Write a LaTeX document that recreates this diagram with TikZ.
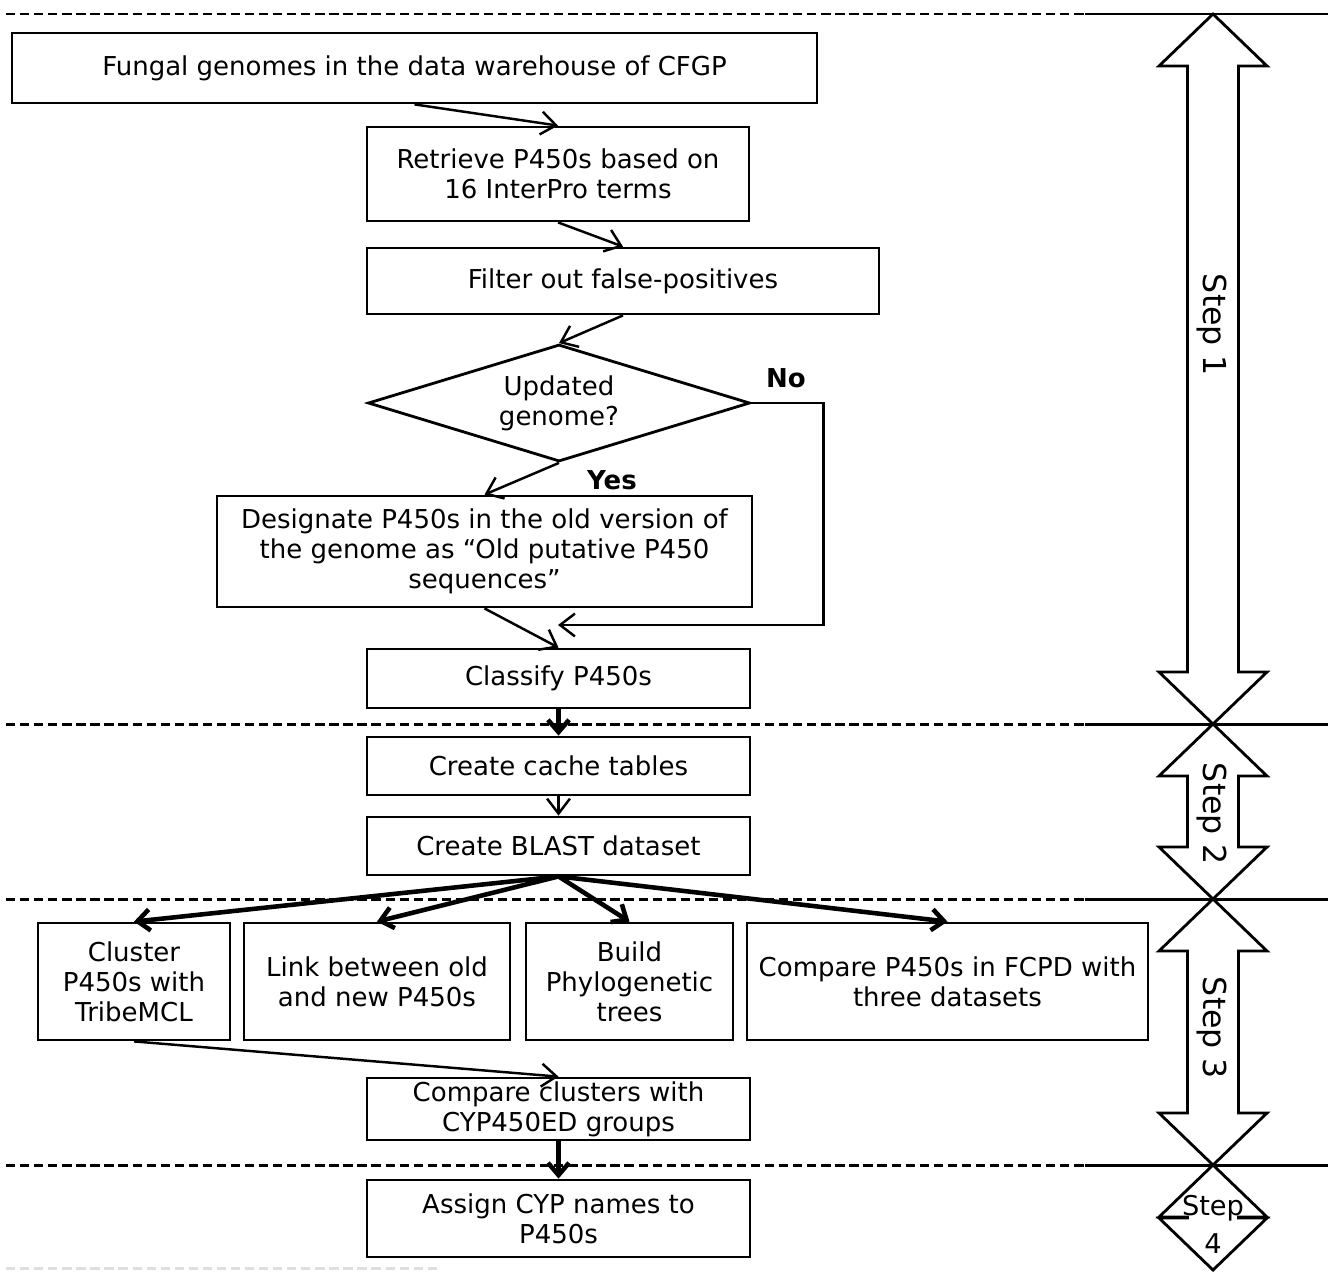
\documentclass[tikz,border=0pt]{standalone}
\usepackage{fontspec}
\setmainfont{DejaVu Sans}
\usetikzlibrary{shapes.geometric,arrows.meta}

\begin{document}
\begin{tikzpicture}[x=0.02cm,y=-0.02cm,
  box/.style={draw,line width=1.6pt,align=center,inner sep=0pt,font=\fontsize{14.8}{17}\selectfont},
  decision/.style={draw,diamond,aspect=3.3,line width=1.6pt,align=center,inner sep=0pt,
    font=\fontsize{14.8}{17}\selectfont,minimum width=7.64cm,minimum height=2.34cm},
  arr/.style={line width=1.4pt,-{Straight Barb[length=8.5pt,width=13pt]}},
  bigarr/.style={line width=2.6pt,-{Straight Barb[length=7pt,width=12pt]}},
  stepline/.style={line width=1.6pt,line join=miter},
  split/.style={line width=1.7pt,dash pattern=on 5.3pt off 2.7pt},
  steplabel/.style={font=\fontsize{18}{20}\selectfont,rotate=-90},
  answer/.style={font=\bfseries\fontsize{14.8}{17}\selectfont}]

 \useasboundingbox (0,0) rectangle (1328,1272);

 % step borders
 \foreach \yy in {14,724,899,1165}{
   \draw[split] (6,\yy) -- (1085,\yy);
   \draw[line width=1.7pt] (1085,\yy) -- (1328,\yy);
 }
 \draw[split,gray!25] (6,1268) -- (440,1268);

 % step arrows
 \foreach \ya/\yb in {14/724,724/899,899/1165,1165/1270}
   \draw[stepline] (1213,\ya) -- (1267,{\ya+52}) -- (1238.5,{\ya+52}) -- (1238.5,{\yb-52})
     -- (1267,{\yb-52}) -- (1213,\yb) -- (1159,{\yb-52}) -- (1187.5,{\yb-52})
     -- (1187.5,{\ya+52}) -- (1159,{\ya+52}) -- cycle;
 \node[steplabel] (step1) at (1212,325) {Step 1};
 \node[steplabel] (step2) at (1212,814) {Step 2};
 \node[steplabel] (step3) at (1212,1028) {Step 3};
 \node[align=center,font=\fontsize{15.5}{21.5}\selectfont] (step4) at (1213,1224) {Step\\4};

 % step 1
 \node[box,minimum width=16.1cm,minimum height=1.4cm] (genomes) at (414.5,68) {Fungal genomes in the data warehouse of CFGP};
 \node[box,minimum width=7.64cm,minimum height=1.88cm] (retrieve) at (558,174) {Retrieve P450s based on\\16 InterPro terms};
 \node[box,minimum width=10.24cm,minimum height=1.32cm] (filter) at (623,281) {Filter out false-positives};
 \node[decision] (updated) at (559,403) {Updated\\genome?};
 \node[box,minimum width=10.7cm,minimum height=2.22cm] (designate) at (484.5,551.5) {Designate P450s in the old version of\\the genome as “Old putative P450\\sequences”};
 \node[box,minimum width=7.66cm,minimum height=1.18cm] (classify) at (558.5,678.5) {Classify P450s};
 \coordinate (merge) at (558,625);
 \node[answer] (no) at (786,378) {No};
 \node[answer] (yes) at (612,480) {Yes};

 % step 2
 \node[box,minimum width=7.66cm,minimum height=1.16cm] (cache) at (558.5,766) {Create cache tables};
 \node[box,minimum width=7.66cm,minimum height=1.16cm] (blast) at (558.5,846) {Create BLAST dataset};

 % step 3
 \node[box,minimum width=3.84cm,minimum height=2.34cm] (cluster) at (134,981.5) {Cluster\\P450s with\\TribeMCL};
 \node[box,minimum width=5.32cm,minimum height=2.34cm] (link) at (377,981.5) {Link between old\\and new P450s};
 \node[box,minimum width=4.14cm,minimum height=2.34cm] (build) at (629.5,981.5) {Build\\Phylogenetic\\trees};
 \node[box,minimum width=8.02cm,minimum height=2.34cm] (fcpd) at (947.5,981.5) {Compare P450s in FCPD with\\three datasets};
 \node[box,minimum width=7.66cm,minimum height=1.24cm] (groups) at (558.5,1109) {Compare clusters with\\CYP450ED groups};

 % step 4
 \node[box,minimum width=7.66cm,minimum height=1.54cm] (assign) at (558.5,1218.5) {Assign CYP names to\\P450s};

 % connectors
 \draw[arr] (genomes.south) -- (retrieve.north);
 \draw[arr] (retrieve.south) -- (filter.north);
 \draw[arr] (filter.south) -- (updated.north);
 \draw[arr] (updated.south) -- (designate.north);
 \draw[arr] (updated.east) -- ++(72,0) |- (merge);
 \draw[arr] (designate.south) -- (classify.north);
 \draw[bigarr] (classify.south) -- (cache.north);
 \draw[arr] (cache.south) -- (blast.north);
 \foreach \n in {cluster,link,build,fcpd}
   \draw[bigarr] (blast.south) -- (\n.north);
 \draw[arr] (cluster.south) -- (groups.north);
 \draw[bigarr] (groups.south) -- (assign.north);
\end{tikzpicture}
\end{document}
